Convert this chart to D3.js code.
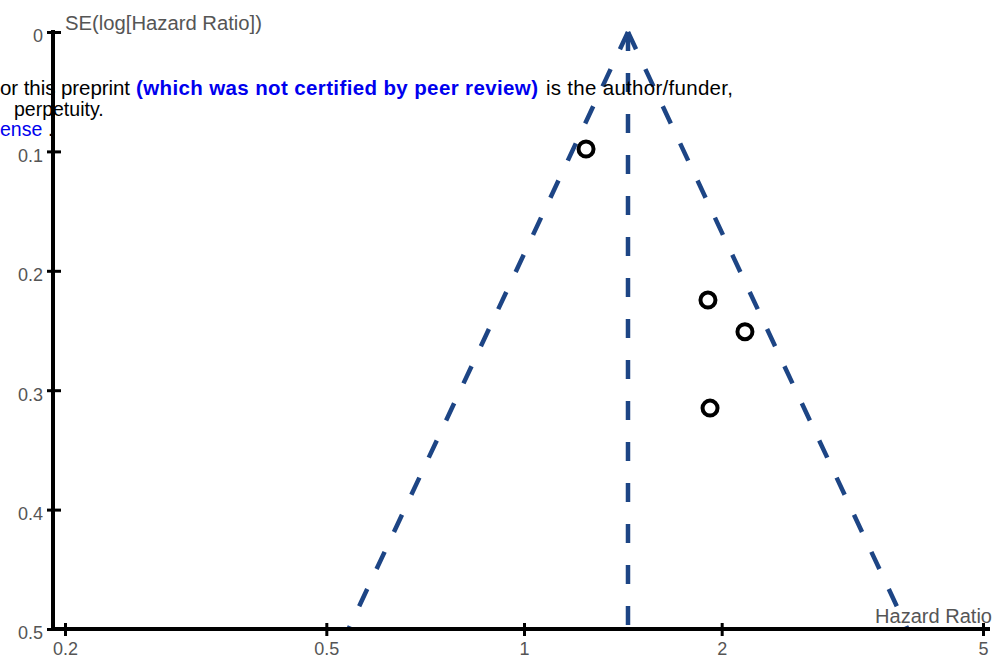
<!DOCTYPE html>
<html><head><meta charset="utf-8">
<script src="https://cdn.jsdelivr.net/npm/d3@7"></script>
<style>body{margin:0;background:#fff}svg{display:block}text{font-family:"Liberation Sans",Arial,sans-serif}</style>
</head><body>
<script>
// Data
const studyHR = [1.243, 1.906, 2.17, 1.92];
const studySE = [0.098, 0.2245, 0.251, 0.315];
const pooledHR = 1.44;
const xTicks = [0.2, 0.5, 1, 2, 5];
const yTicks = [0, 0.1, 0.2, 0.3, 0.4, 0.5];
const xLabel = "Hazard Ratio";
const yLabel = "SE(log[Hazard Ratio])";

const W = 1001, H = 668;
const svg = d3.select("body").append("svg").attr("width", W).attr("height", H);
const x = d3.scaleLog().domain([0.2, 5]).range([65, 983]);
const y = d3.scaleLinear().domain([0, 0.5]).range([32, 629]);
const axisX = 53, axisY = 629;

// funnel lines
const blue = "#1d4585";
const seMax = 0.5;
const lines = [
  [[pooledHR, 0], [pooledHR, seMax]],
  [[pooledHR, 0], [Math.exp(Math.log(pooledHR) - 1.96 * seMax), seMax]],
  [[pooledHR, 0], [Math.exp(Math.log(pooledHR) + 1.96 * seMax), seMax]]
];
const lineGen = d3.line().x(d => x(d[0])).y(d => y(d[1]));
svg.selectAll("path.funnel").data(lines).enter().append("path")
  .attr("class", "funnel").attr("d", lineGen)
  .attr("fill", "none").attr("stroke", blue).attr("stroke-width", 4.5)
  .attr("stroke-dasharray", "19,22");

// overlay watermark text
const wm = svg.append("g").attr("font-size", 20.5);
wm.append("text").attr("x", 0).attr("y", 95).attr("fill", "#000")
  .attr("textLength", 130).attr("lengthAdjust", "spacing").text("or this preprint");
wm.append("text").attr("x", 136).attr("y", 95).attr("fill", "#0000ee").attr("font-weight", "bold")
  .attr("textLength", 402).attr("lengthAdjust", "spacing").text("(which was not certified by peer review)");
wm.append("text").attr("x", 546).attr("y", 95).attr("fill", "#000")
  .attr("textLength", 187).attr("lengthAdjust", "spacing").text("is the author/funder,");
wm.append("text").attr("x", 14).attr("y", 116).attr("fill", "#000").attr("font-size", 19.5).text("perpetuity.");
wm.append("text").attr("x", 0).attr("y", 136).attr("fill", "#0000ee").attr("font-size", 19.5).text("ense");
wm.append("text").attr("x", 48).attr("y", 136).attr("fill", "#000").attr("font-size", 19.5).text(".");

// axes
const tickFont = 18;
const gx = svg.append("g").attr("transform", `translate(0,${axisY})`)
  .call(d3.axisBottom(x).tickValues(xTicks).tickFormat(d3.format("")).tickSize(0).tickPadding(13));
gx.select(".domain").remove();
gx.selectAll(".tick line").attr("y1", -6).attr("y2", 7).attr("stroke", "#000").attr("stroke-width", 3);
gx.selectAll(".tick text").attr("font-size", tickFont).attr("fill", "#555").attr("font-family", "Liberation Sans, Arial, sans-serif");
svg.append("line").attr("x1", axisX).attr("x2", 990).attr("y1", axisY).attr("y2", axisY)
  .attr("stroke", "#000").attr("stroke-width", 4);

const gy = svg.append("g").attr("transform", `translate(${axisX},0)`)
  .call(d3.axisLeft(y).tickValues(yTicks).tickFormat(d3.format("")).tickSize(0).tickPadding(10));
gy.select(".domain").remove();
gy.selectAll(".tick line").attr("x1", -6).attr("x2", 8).attr("stroke", "#000").attr("stroke-width", 3);
gy.selectAll(".tick text").attr("font-size", tickFont).attr("fill", "#555").attr("font-family", "Liberation Sans, Arial, sans-serif").attr("dy", "0.55em");
svg.append("line").attr("x1", axisX).attr("x2", axisX).attr("y1", 30).attr("y2", axisY + 2)
  .attr("stroke", "#000").attr("stroke-width", 4);

// axis titles
svg.append("text").attr("x", 65).attr("y", 30).attr("font-size", 20).attr("fill", "#555")
  .attr("textLength", 197).attr("lengthAdjust", "spacingAndGlyphs").text(yLabel);
svg.append("text").attr("x", 875).attr("y", 623).attr("font-size", 20).attr("fill", "#555")
  .attr("textLength", 117).attr("lengthAdjust", "spacingAndGlyphs").text(xLabel);

// studies
svg.selectAll("circle.study").data(studyHR.map((h, i) => [h, studySE[i]])).enter().append("circle")
  .attr("class", "study").attr("cx", d => x(d[0])).attr("cy", d => y(d[1])).attr("r", 7.5)
  .attr("fill", "none").attr("stroke", "#000").attr("stroke-width", 4);
</script>
</body></html>
